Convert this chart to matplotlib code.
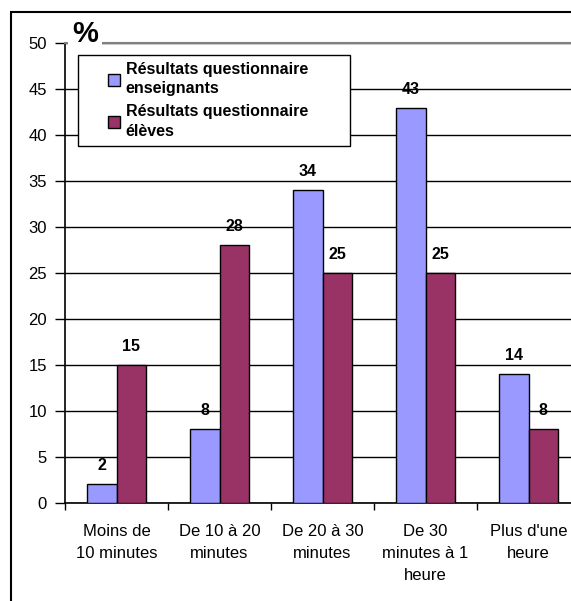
import matplotlib
matplotlib.use("Agg")
import matplotlib.pyplot as plt
import matplotlib.patches as mpatches
import numpy as np

categories = ["Moins de\n10 minutes", "De 10 à 20\nminutes", "De 20 à 30\nminutes",
              "De 30\nminutes à 1\nheure", "Plus d'une\nheure"]
enseignants = [2, 8, 34, 43, 14]
eleves = [15, 28, 25, 25, 8]
series_names = ["Résultats questionnaire\nenseignants", "Résultats questionnaire\nélèves"]
yticks = [0, 5, 10, 15, 20, 25, 30, 35, 40, 45, 50]

plt.rcParams['font.family'] = ['Liberation Sans', 'DejaVu Sans']

W, H = 571, 601
fig = plt.figure(figsize=(W / 100, H / 100), dpi=100)

# axes placement (pixel measurements)
ax_left, ax_right = 65, 580
ax_top, ax_bottom = 43.3, 502.7
ax = fig.add_axes([ax_left / W, (H - ax_bottom) / H,
                   (ax_right - ax_left) / W, (ax_bottom - ax_top) / H])

x = np.arange(len(categories))
bw = 1 / 3.5
b1 = ax.bar(x - bw / 2, enseignants, bw, color="#9999FF", edgecolor="black", linewidth=1, zorder=3)
b2 = ax.bar(x + bw / 2, eleves, bw, color="#993366", edgecolor="black", linewidth=1, zorder=3)

ax.bar_label(b1, padding=8, fontsize=11.5, fontweight="bold", zorder=4)
ax.bar_label(b2, padding=8, fontsize=11.5, fontweight="bold", zorder=4)

ax.set_xlim(-0.5, len(categories) - 0.5)
ax.set_ylim(0, 50)
ax.set_yticks(yticks)
ax.tick_params(axis="y", labelsize=12, length=7, width=1, direction="out", pad=6)
ax.set_xticks(np.arange(len(categories) + 1) - 0.5)
ax.set_xticklabels([])
ax.set_xticks(x, minor=True)
ax.set_xticklabels(categories, minor=True, fontsize=12, linespacing=1.6, va="top")
ax.tick_params(axis="x", which="major", length=5, width=1, direction="out")
ax.tick_params(axis="x", which="minor", length=0, pad=15)

ax.yaxis.grid(True, color="black", linewidth=1, zorder=0)
ax.set_axisbelow(True)
for s in ["left", "bottom"]:
    ax.spines[s].set_color("black")
    ax.spines[s].set_linewidth(1.2)
ax.spines["top"].set_color("#808080")
ax.spines["top"].set_linewidth(1.5)
ax.spines["right"].set_visible(False)

# legend box drawn manually (pixel coords)
lx0, lx1, ly0, ly1 = 78, 350, 55, 146
box = mpatches.Rectangle((lx0 / W, (H - ly1) / H), (lx1 - lx0) / W, (ly1 - ly0) / H,
                         transform=fig.transFigure, facecolor="white", edgecolor="black",
                         linewidth=1, zorder=4.5, clip_on=False)
ax.add_patch(box)

leg = ax.legend([b1, b2], series_names, loc="upper left",
                bbox_to_anchor=(105 / W, (H - 59) / H), bbox_transform=fig.transFigure,
                borderaxespad=0, frameon=False,
                prop={"weight": "bold", "size": 11.5}, handlelength=0.75, handleheight=0.75,
                handletextpad=0.35, labelspacing=0.5, borderpad=0.2)
leg.set_zorder(5)
for t in leg.get_texts():
    t.set_linespacing(1.35)

# "%" label with white background
fig.text(72 / W, (H - 42) / H, "%", fontsize=21, fontweight="bold", ha="left", va="baseline",
         bbox=dict(facecolor="white", edgecolor="none", pad=3))

# outer frame
frame = mpatches.Rectangle((11 / W, -0.2), 2, (H - 12) / H + 0.2, transform=fig.transFigure,
                           fill=False, edgecolor="black", linewidth=1.5)
fig.patches.append(frame)

fig.savefig("out.png", dpi=100)
